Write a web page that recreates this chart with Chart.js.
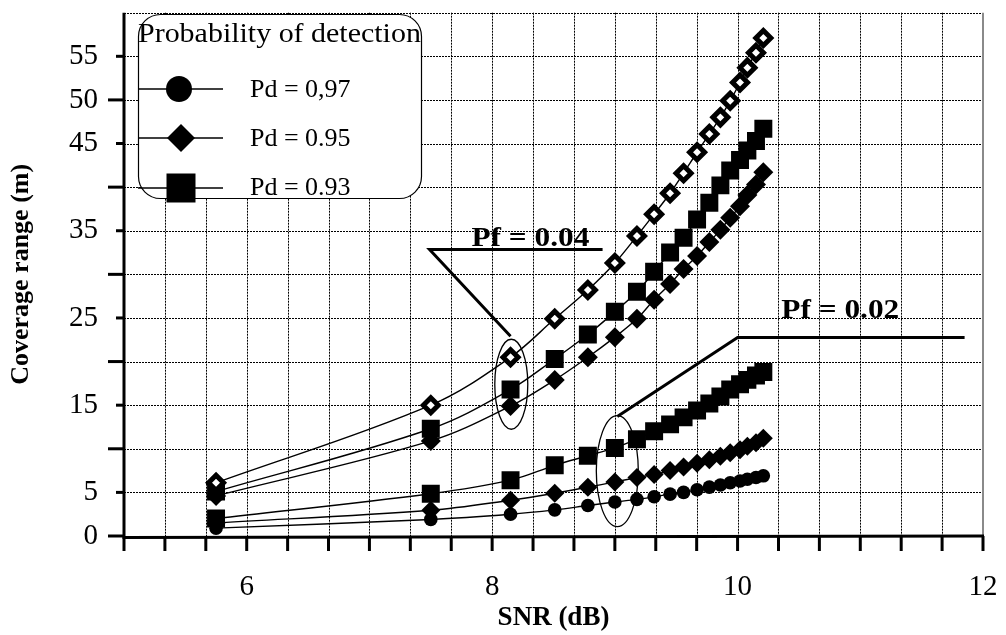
<!DOCTYPE html>
<html><head><meta charset="utf-8">
<script src="https://cdn.jsdelivr.net/npm/chart.js@4/dist/chart.umd.min.js"></script>
<style>html,body{margin:0;padding:0;background:#fff;}#wrap{width:1006px;height:635px;}</style>
</head><body><div id="wrap"><canvas id="c" width="1006" height="635"></canvas></div>
<script>
// ---- data ----
const snr = [5.75, 7.5, 8.15, 8.51, 8.78, 9.0, 9.18, 9.32, 9.45, 9.56, 9.67, 9.77, 9.86, 9.94, 10.02, 10.08, 10.15, 10.21];
// Pf = 0.04
const pf04_open = [6.1, 15.0, 20.5, 24.9, 28.2, 31.3, 34.4, 36.9, 39.3, 41.6, 44.0, 46.1, 48.0, 49.9, 52.0, 53.7, 55.4, 57.1];
const pf04_pd093 = [5.1, 12.3, 16.8, 20.3, 23.1, 25.7, 28.0, 30.3, 32.5, 34.2, 36.3, 38.2, 40.2, 41.9, 43.1, 44.2, 45.3, 46.7];
const pf04_pd095 = [4.6, 10.9, 14.9, 17.9, 20.5, 22.8, 24.9, 27.1, 28.9, 30.6, 32.1, 33.7, 35.1, 36.5, 37.8, 39.1, 40.3, 41.7];
// Pf = 0.02
const pf02_pd093 = [2.0, 4.85, 6.4, 8.1, 9.2, 10.1, 11.1, 12.0, 12.8, 13.6, 14.4, 15.2, 16.0, 16.8, 17.4, 17.9, 18.4, 18.8];
const pf02_pd095 = [1.5, 2.95, 4.1, 4.9, 5.6, 6.2, 6.7, 7.05, 7.5, 7.9, 8.35, 8.75, 9.15, 9.55, 9.9, 10.3, 10.7, 11.2];
const pf02_pd097 = [0.9, 1.9, 2.5, 3.0, 3.5, 3.9, 4.2, 4.5, 4.8, 5.0, 5.3, 5.6, 5.85, 6.1, 6.3, 6.5, 6.7, 6.9];

const xTickLabels = [6, 8, 10, 12];
const yTickLabels = [0, 5, 15, 25, 35, 45, 50, 55];
const legendTitle = 'Probability of detection';
const legendLabels = ['Pd = 0,97', 'Pd = 0.95', 'Pd = 0.93'];
const pfLabels = ['Pf = 0.04', 'Pf = 0.02'];
const xTitle = 'SNR (dB)';
const yTitle = 'Coverage range (m)';

// ---- helpers ----
const pts = arr => snr.map((x, i) => ({x: x, y: arr[i]}));
const SERIF = "'Liberation Serif', 'Times New Roman', serif";
const X_MIN = 5, X_MAX = 12, X_STEP = 1/3, Y_MIN = 0, Y_MAX = 60, Y_STEP = 5;

function ds(arr, style, radius, opts) {
  return Object.assign({
    data: pts(arr), showLine: true, tension: 0.35,
    borderColor: '#000', borderWidth: 1.4,
    pointStyle: style, pointRadius: radius, pointHoverRadius: radius,
    pointBackgroundColor: '#000', pointBorderColor: '#000', pointBorderWidth: 0
  }, opts || {});
}

const frame = {
  id: 'frame',
  beforeDatasetsDraw(chart) {
    const {ctx, chartArea: a, scales: {x, y}} = chart;
    ctx.save();
    ctx.strokeStyle = '#000'; ctx.lineWidth = 1; ctx.setLineDash([2, 1]);
    const nx = Math.round((X_MAX - X_MIN) / X_STEP);
    for (let i = 1; i < nx; i++) {
      const px = Math.round(x.getPixelForValue(X_MIN + i * X_STEP)) + 0.5;
      ctx.beginPath(); ctx.moveTo(px, a.top); ctx.lineTo(px, a.bottom); ctx.stroke();
    }
    for (let v = Y_STEP; v <= Y_MAX; v += Y_STEP) {
      const py = Math.round(y.getPixelForValue(v)) + 0.5;
      ctx.beginPath(); ctx.moveTo(a.left, py); ctx.lineTo(a.right, py); ctx.stroke();
    }
    ctx.setLineDash([]);
    ctx.strokeStyle = '#8a8a8a'; ctx.lineWidth = 2;
    ctx.beginPath(); ctx.moveTo(a.right, a.top); ctx.lineTo(a.right, a.bottom); ctx.stroke();
    ctx.strokeStyle = '#000'; ctx.lineWidth = 3;
    ctx.beginPath(); ctx.moveTo(a.left, a.top); ctx.lineTo(a.left, a.bottom + 1.5); ctx.lineTo(a.right + 1, a.bottom); ctx.stroke();
    for (let v = Y_MIN; v <= Y_MAX - Y_STEP; v += Y_STEP) {
      const py = y.getPixelForValue(v);
      const len = (v % 10 === 0) ? 16 : 8;
      ctx.beginPath(); ctx.moveTo(a.left - len, py); ctx.lineTo(a.left, py); ctx.stroke();
    }
    for (let i = 0; i <= nx; i++) {
      const px = x.getPixelForValue(X_MIN + i * X_STEP);
      ctx.beginPath(); ctx.moveTo(px, a.bottom); ctx.lineTo(px, a.bottom + 15); ctx.stroke();
    }
    ctx.restore();
  }
};

function stretchedText(ctx, text, px, py, font, sx) {
  ctx.save(); ctx.font = font; ctx.translate(px, py); ctx.scale(sx, 1);
  ctx.fillText(text, 0, 0); ctx.restore();
}

const notes = {
  id: 'notes',
  afterDatasetsDraw(chart) {
    const {ctx, scales: {x, y}} = chart;
    const X = v => x.getPixelForValue(v), Y = v => y.getPixelForValue(v);
    ctx.save();
    ctx.strokeStyle = '#000'; ctx.fillStyle = '#000';
    ctx.lineWidth = 1.3;
    ctx.beginPath(); ctx.ellipse(X(8.156), Y(17.4), 16.5, 45, 0, 0, Math.PI * 2); ctx.stroke();
    ctx.beginPath(); ctx.ellipse(X(9.02), Y(7.44), 21, 55.5, 0, 0, Math.PI * 2); ctx.stroke();
    ctx.lineWidth = 3;
    ctx.beginPath(); ctx.moveTo(X(8.15), Y(22.9)); ctx.lineTo(X(7.49), Y(32.85)); ctx.lineTo(X(8.9), Y(32.85)); ctx.stroke();
    ctx.beginPath(); ctx.moveTo(X(9.02), Y(13.7)); ctx.lineTo(X(10.0), Y(22.75)); ctx.lineTo(X(11.85), Y(22.75)); ctx.stroke();
    ctx.textAlign = 'left'; ctx.textBaseline = 'alphabetic';
    stretchedText(ctx, pfLabels[0], X(7.831), Y(33.3), 'bold 28px ' + SERIF, 1.12);
    stretchedText(ctx, pfLabels[1], X(10.356), Y(25.0), 'bold 28px ' + SERIF, 1.12);
    ctx.restore();
  }
};

const legendBox = {
  id: 'legendBox',
  afterDraw(chart) {
    const {ctx} = chart;
    ctx.save();
    ctx.beginPath(); ctx.roundRect(138.5, 14.5, 283, 184, 22);
    ctx.fillStyle = '#fff'; ctx.fill();
    ctx.strokeStyle = '#000'; ctx.lineWidth = 1.2; ctx.stroke();
    ctx.fillStyle = '#000'; ctx.textAlign = 'left'; ctx.textBaseline = 'alphabetic';
    stretchedText(ctx, legendTitle, 138, 41.5, '28px ' + SERIF, 1.07);
    const rows = [89, 138, 188];
    const bases = [96.7, 146, 195];
    rows.forEach((cy, i) => {
      ctx.strokeStyle = '#000'; ctx.lineWidth = 1.3;
      ctx.beginPath(); ctx.moveTo(138, cy); ctx.lineTo(223, cy); ctx.stroke();
      ctx.beginPath();
      if (i === 0) { ctx.arc(179, cy, 13, 0, Math.PI * 2); }
      else if (i === 1) { ctx.moveTo(181, cy - 14); ctx.lineTo(195, cy); ctx.lineTo(181, cy + 14); ctx.lineTo(167, cy); ctx.closePath(); }
      else { ctx.rect(166.5, cy - 14.5, 29, 29); }
      ctx.fill();
      stretchedText(ctx, legendLabels[i], 250, bases[i], '25px ' + SERIF, 1.04);
    });
    ctx.restore();
  }
};

const noPad = s => { s.paddingTop = 0; s.paddingBottom = 0; s.paddingLeft = 0; s.paddingRight = 0; };

new Chart(document.getElementById('c'), {
  type: 'scatter',
  data: {
    datasets: [
      ds(pf04_open, 'rectRot', 7.5, {pointBackgroundColor: '#fff', pointBorderWidth: 5}),
      ds(pf04_pd093, 'rect', 12.7),
      ds(pf04_pd095, 'rectRot', 10),
      ds(pf02_pd093, 'rect', 12.7),
      ds(pf02_pd095, 'rectRot', 9.5),
      ds(pf02_pd097, 'circle', 6.8)
    ]
  },
  options: {
    responsive: false, animation: false, devicePixelRatio: 1,
    layout: {padding: {top: 7, right: 23, left: 0, bottom: 0}},
    plugins: {legend: {display: false}, tooltip: {enabled: false}},
    scales: {
      x: {
        type: 'linear', min: X_MIN, max: X_MAX,
        afterFit: s => { s.height = 99; noPad(s); },
        afterBuildTicks: s => { s.ticks = xTickLabels.map(v => ({value: v})); },
        grid: {display: false, drawTicks: false}, border: {display: false},
        ticks: {
          autoSkip: false, maxRotation: 0, padding: 34, color: '#000',
          font: {family: SERIF, size: 29},
          callback: v => String(v)
        },
        title: {display: true, text: xTitle, color: '#000', padding: {top: 0, bottom: 1},
                font: {family: SERIF, size: 27, weight: 'bold'}}
      },
      y: {
        type: 'linear', min: Y_MIN, max: Y_MAX,
        afterFit: s => { s.width = 124; noPad(s); },
        afterBuildTicks: s => { s.ticks = yTickLabels.map(v => ({value: v})); },
        grid: {display: false, drawTicks: false}, border: {display: false},
        ticks: {
          autoSkip: false, padding: 26, color: '#000',
          font: {family: SERIF, size: 29},
          callback: v => String(v)
        },
        title: {display: true, text: yTitle, color: '#000', padding: {top: 6, bottom: 0},
                font: {family: SERIF, size: 26, weight: 'bold'}}
      }
    }
  },
  plugins: [frame, notes, legendBox]
});
</script>
</body></html>
